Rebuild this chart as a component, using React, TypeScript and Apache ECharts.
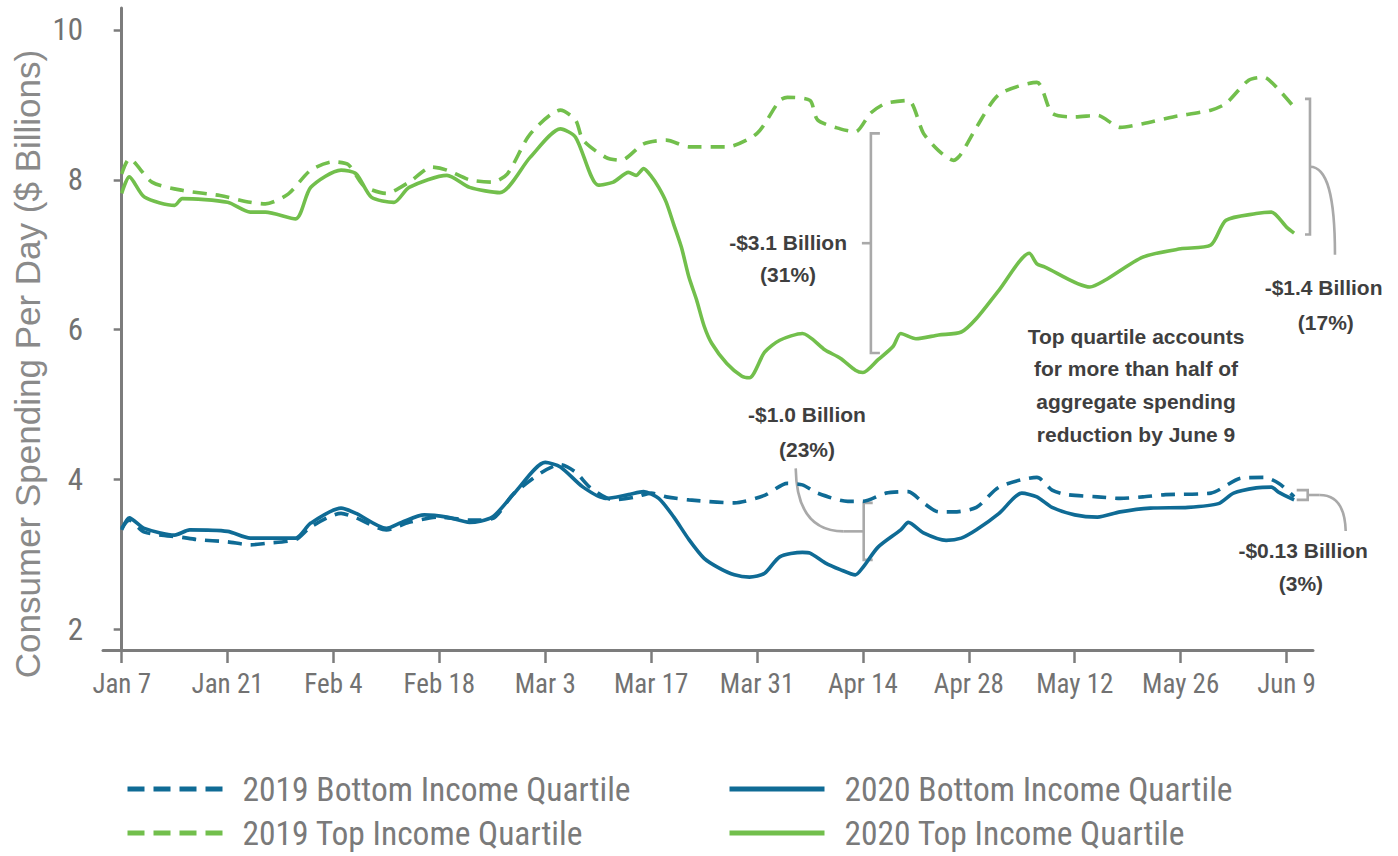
import React, { useEffect, useRef } from "react";
import * as echarts from "echarts";

// ---------- data ----------
const tickLabels = ["Jan 7", "Jan 21", "Feb 4", "Feb 18", "Mar 3", "Mar 17", "Mar 31", "Apr 14", "Apr 28", "May 12", "May 26", "Jun 9"];
const tickDays = [0, 14, 28, 42, 56, 70, 84, 98, 112, 126, 140, 154];
const yTicks = [2, 4, 6, 8, 10];

const seriesNames = ["2019 Bottom Income Quartile", "2020 Bottom Income Quartile", "2019 Top Income Quartile", "2020 Top Income Quartile"];

const top2020Days = [0, 1, 3, 7, 8, 14, 17, 19, 23, 25, 29, 31, 33, 36, 38, 43, 46, 50, 54, 58, 60, 63, 65, 67, 68, 69, 70, 71, 72, 73, 74, 75, 76, 77, 78, 80, 82, 83, 85, 87, 90, 93, 95, 97, 98, 100, 102, 103, 105, 108, 111, 113, 116, 120, 121, 122, 128, 130, 135, 140, 144, 146, 150, 152, 154, 155];
const top2020Values = [7.82, 8.04, 7.77, 7.66, 7.75, 7.7, 7.57, 7.57, 7.48, 7.9, 8.13, 8.08, 7.77, 7.7, 7.9, 8.06, 7.9, 7.83, 8.3, 8.68, 8.57, 7.93, 7.97, 8.1, 8.06, 8.15, 8.05, 7.9, 7.7, 7.4, 7.1, 6.7, 6.4, 6.05, 5.82, 5.55, 5.38, 5.36, 5.7, 5.86, 5.95, 5.73, 5.62, 5.46, 5.43, 5.6, 5.78, 5.95, 5.88, 5.93, 5.97, 6.15, 6.53, 7.02, 6.88, 6.84, 6.57, 6.66, 6.97, 7.08, 7.13, 7.46, 7.55, 7.57, 7.37, 7.29];

const top2019Days = [0, 1, 4, 8, 13, 17, 19, 22, 25, 28, 30, 32, 35, 38, 41, 43, 46, 49, 51, 54, 58, 60, 61, 64, 66, 69, 72, 75, 80, 84, 87, 88, 91, 92, 95, 97, 99, 101, 104, 106, 108, 110, 111, 113, 116, 121, 123, 126, 129, 132, 135, 139, 144, 146, 149, 151, 153, 155];
const top2019Values = [8.08, 8.28, 7.97, 7.86, 7.79, 7.7, 7.68, 7.81, 8.13, 8.24, 8.2, 7.92, 7.82, 7.97, 8.17, 8.13, 8.0, 7.97, 8.08, 8.61, 8.93, 8.8, 8.53, 8.3, 8.26, 8.48, 8.53, 8.44, 8.44, 8.62, 9.06, 9.1, 9.06, 8.8, 8.68, 8.64, 8.89, 9.02, 9.06, 8.62, 8.39, 8.26, 8.35, 8.7, 9.14, 9.3, 8.89, 8.84, 8.86, 8.7, 8.75, 8.84, 8.93, 9.02, 9.33, 9.37, 9.2, 8.97];

const bottom2020Days = [0, 1, 3, 7, 9, 14, 17, 21, 23, 25, 29, 31, 35, 37, 40, 43, 46, 49, 52, 56, 58, 61, 64, 67, 69, 71, 73, 75, 77, 79, 81, 83, 85, 87, 90, 91, 93, 95, 97, 98, 100, 103, 104, 106, 109, 111, 113, 116, 119, 121, 123, 126, 129, 132, 136, 141, 145, 147, 150, 152, 153, 155];
const bottom2020Values = [3.33, 3.49, 3.35, 3.26, 3.33, 3.31, 3.22, 3.22, 3.22, 3.42, 3.62, 3.55, 3.35, 3.43, 3.53, 3.5, 3.43, 3.5, 3.83, 4.23, 4.17, 3.9, 3.75, 3.8, 3.84, 3.75, 3.5, 3.2, 2.95, 2.82, 2.73, 2.7, 2.75, 2.97, 3.03, 3.02, 2.89, 2.8, 2.73, 2.83, 3.1, 3.33, 3.43, 3.29, 3.19, 3.22, 3.33, 3.55, 3.82, 3.77, 3.63, 3.53, 3.5, 3.57, 3.62, 3.63, 3.68, 3.82, 3.89, 3.9, 3.83, 3.73];

const bottom2019Days = [0, 1, 3, 8, 10, 14, 17, 19, 23, 25, 29, 31, 35, 38, 42, 46, 49, 52, 58, 60, 62, 65, 68, 70, 72, 75, 81, 85, 88, 90, 92, 96, 98, 101, 104, 106, 108, 110, 113, 116, 121, 123, 125, 129, 132, 135, 138, 144, 148, 151, 153, 155];
const bottom2019Values = [3.35, 3.46, 3.3, 3.23, 3.2, 3.17, 3.13, 3.15, 3.2, 3.37, 3.55, 3.49, 3.33, 3.43, 3.5, 3.46, 3.48, 3.83, 4.2, 4.1, 3.89, 3.73, 3.77, 3.82, 3.77, 3.73, 3.69, 3.79, 3.95, 3.93, 3.82, 3.71, 3.71, 3.82, 3.84, 3.69, 3.57, 3.57, 3.63, 3.9, 4.03, 3.86, 3.8, 3.77, 3.75, 3.77, 3.8, 3.82, 4.02, 4.03, 3.95, 3.77];

// ---------- style ----------
const GREEN = "#72bf4c";
const BLUE = "#0f6b95";
const AXIS = "#7c7c7c";
const GRAY = "#a9a9a9";
const LABEL = "#727272";
const ANN = "#3f3f3f";
const NARROW = "'Liberation Sans Narrow', 'Arial Narrow', 'Roboto Condensed', 'DejaVu Sans Condensed', 'Liberation Sans', sans-serif";
const SANS = "'Liberation Sans', Arial, sans-serif";

const pairs = (d: number[], v: number[]) => d.map((x, i) => [x, v[i]]);

const lineSeries = (name: string, data: number[][], color: string, dashed: boolean, z: number) => ({
  name,
  type: "line",
  data,
  smooth: 0.25,
  symbol: "none",
  showSymbol: false,
  z,
  itemStyle: { color },
  lineStyle: { color, width: 3.6, type: dashed ? [14, 9] : "solid" },
});

const legendAt = (name: string, left: number, cy: number, dashed: boolean) => ({
  data: [name],
  left,
  top: cy - 20,
  padding: 0,
  itemWidth: 95,
  itemHeight: 14,
  itemStyle: { opacity: 0 },
  lineStyle: dashed ? { width: 5, type: [17, 9] } : { width: 5 },
  textStyle: { color: "#7a7a7a", fontSize: 33.5, fontFamily: NARROW, lineHeight: 40, padding: [0, 0, 0, 15] },
});

const option = {
  animation: false,
  backgroundColor: "#ffffff",
  grid: { left: 103, right: 85, top: 8, bottom: 206, containLabel: false },
  xAxis: {
    type: "value",
    min: -2.47,
    max: 157.5,
    axisLine: { show: true, onZero: false, lineStyle: { color: AXIS, width: 3 } },
    axisTick: { show: true, length: 13, customValues: tickDays, lineStyle: { color: AXIS, width: 2.5 } },
    axisLabel: {
      customValues: tickDays,
      formatter: (v: number) => {
        const i = tickDays.indexOf(Math.round(v));
        return i >= 0 ? tickLabels[i] : "";
      },
      color: LABEL,
      fontSize: 27,
      fontFamily: NARROW,
      margin: 20,
    },
    splitLine: { show: false },
  },
  yAxis: {
    type: "value",
    min: 1.727,
    max: 10.293,
    axisLine: { show: true, lineStyle: { color: AXIS, width: 3 } },
    axisTick: { show: true, length: 8, customValues: yTicks, lineStyle: { color: AXIS, width: 2.5 } },
    axisLabel: { customValues: yTicks, color: LABEL, fontSize: 31, fontFamily: NARROW, margin: 20 },
    splitLine: { show: false },
  },
  legend: [
    legendAt(seriesNames[0], 125, 789, true),
    legendAt(seriesNames[2], 125, 833, true),
    legendAt(seriesNames[1], 727, 789, false),
    legendAt(seriesNames[3], 727, 833, false),
  ],
  series: [
    lineSeries(seriesNames[0], pairs(bottom2019Days, bottom2019Values), BLUE, true, 2),
    lineSeries(seriesNames[1], pairs(bottom2020Days, bottom2020Values), BLUE, false, 3),
    lineSeries(seriesNames[2], pairs(top2019Days, top2019Values), GREEN, true, 2),
    lineSeries(seriesNames[3], pairs(top2020Days, top2020Values), GREEN, false, 3),
  ],
};

// annotation texts anchored in data units (day, value)
const annotationTexts = [
  { text: "-$3.1 Billion", day: 88.1, value: 7.167 },
  { text: "(31%)", day: 88.1, value: 6.74 },
  { text: "-$1.4 Billion", day: 158.9, value: 6.567 },
  { text: "(17%)", day: 159.2, value: 6.1 },
  { text: "-$1.0 Billion", day: 90.6, value: 4.873 },
  { text: "(23%)", day: 90.6, value: 4.407 },
  { text: "-$0.13 Billion", day: 156.2, value: 3.06 },
  { text: "(3%)", day: 155.9, value: 2.62 },
  { text: "Top quartile accounts", day: 134.1, value: 5.913 },
  { text: "for more than half of", day: 134.1, value: 5.487 },
  { text: "aggregate spending", day: 134.1, value: 5.047 },
  { text: "reduction by June 9", day: 134.1, value: 4.607 },
];

// brackets: day, top value, bottom value
const brackets = [
  { day: 99.05, top: 8.62, bottom: 5.69, hook: 9 },
  { day: 157.1, top: 9.08, bottom: 7.27, hook: -5 },
  { day: 98.1, top: 3.69, bottom: 2.93, hook: 9 },
  { day: 156.8, top: 3.86, bottom: 3.73, hook: -11 },
];

export default function App() {
  const ref = useRef<HTMLDivElement>(null);
  useEffect(() => {
    document.body.style.margin = "0";
    const chart = echarts.init(ref.current as HTMLDivElement, undefined, { renderer: "svg" });
    chart.setOption(option as any);

    const px = (d: number, v: number) => chart.convertToPixel({ gridIndex: 0 } as any, [d, v]) as number[];
    const stroke = { stroke: GRAY, lineWidth: 2.6, fill: null as any };
    const els: any[] = [];

    const mids: number[][] = [];
    brackets.forEach((b) => {
      const t = px(b.day, b.top);
      const bt = px(b.day, b.bottom);
      const x = t[0];
      els.push({
        type: "polyline",
        silent: true,
        shape: { points: [[x + b.hook, t[1]], [x, t[1]], [x, bt[1]], [x + b.hook, bt[1]]] },
        style: stroke,
      });
      mids.push([x, (t[1] + bt[1]) / 2]);
    });

    // bracket 1: small middle tick to the left
    const m1 = mids[0];
    els.push({ type: "line", silent: true, shape: { x1: m1[0] - 9, y1: m1[1], x2: m1[0], y2: m1[1] }, style: stroke });
    // bracket 2: curve down-right to its label
    const m2 = mids[1];
    els.push({
      type: "bezierCurve",
      silent: true,
      shape: { x1: m2[0], y1: m2[1], cpx1: m2[0] + 17, cpy1: m2[1], cpx2: m2[0] + 25, cpy2: m2[1] + 28, x2: m2[0] + 25, y2: m2[1] + 88 },
      style: stroke,
    });
    // bracket 3: horizontal then curve up-left to its label
    const m3 = mids[2];
    els.push({ type: "line", silent: true, shape: { x1: m3[0] - 20, y1: m3[1], x2: m3[0], y2: m3[1] }, style: stroke });
    els.push({
      type: "bezierCurve",
      silent: true,
      shape: { x1: m3[0] - 20, y1: m3[1], cpx1: m3[0] - 67, cpy1: m3[1], x2: m3[0] - 68, y2: m3[1] - 63 },
      style: stroke,
    });
    // bracket 4: horizontal then curve down-right to its label
    const m4 = mids[3];
    els.push({ type: "line", silent: true, shape: { x1: m4[0], y1: m4[1], x2: m4[0] + 12, y2: m4[1] }, style: stroke });
    els.push({
      type: "bezierCurve",
      silent: true,
      shape: { x1: m4[0] + 12, y1: m4[1], cpx1: m4[0] + 37, cpy1: m4[1], x2: m4[0] + 38, y2: m4[1] + 36 },
      style: stroke,
    });

    annotationTexts.forEach((a) => {
      const p = px(a.day, a.value);
      els.push({
        type: "text",
        silent: true,
        x: p[0],
        y: p[1],
        style: {
          text: a.text,
          fill: ANN,
          fontSize: 21,
          fontWeight: "bold",
          fontFamily: SANS,
          align: "center",
          verticalAlign: "middle",
        },
      });
    });

    // y-axis title
    els.push({
      type: "text",
      silent: true,
      x: 27,
      y: 364,
      rotation: Math.PI / 2,
      style: {
        text: "Consumer Spending Per Day ($ Billions)",
        fill: "#8a8a8a",
        fontSize: 35,
        fontFamily: SANS,
        align: "center",
        verticalAlign: "middle",
      },
    });

    chart.setOption({ graphic: els });
    return () => chart.dispose();
  }, []);
  return <div ref={ref} style={{ width: 1398, height: 856 }} />;
}
